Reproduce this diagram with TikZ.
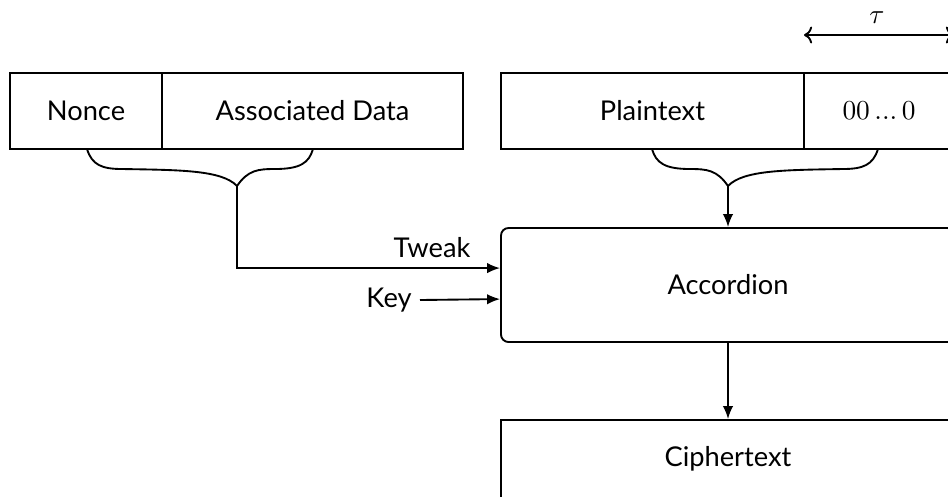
\documentclass[tikz,border=0pt]{standalone}
\usepackage{fontspec}
\setmainfont{Lato}
\usetikzlibrary{arrows.meta,calc}

\begin{document}
\begin{tikzpicture}[x=0.4pt,y=-0.4pt,
  line width=0.75pt,
  every node/.style={font=\fontsize{10.9}{13}\selectfont},
  field/.style={draw, inner sep=0pt, minimum height=76*0.4pt},
  block/.style={draw, rounded corners=3pt, inner sep=0pt,
                minimum width=454*0.4pt, minimum height=114*0.4pt},
  flow/.style={-{Latex[length=5.2pt,width=4.2pt]}},
  % curly brace with its tip at the origin, long arm to the left
  curlybrace/.pic={
    \draw (-150,-37) .. controls (-145,-21) and (-135,-17) .. (-115,-17)
          .. controls (-57,-16) and (-15,-16) .. (0,0)
          .. controls (11,-16) and (21,-17) .. (38,-17)
          .. controls (63,-17) and (72,-23) .. (76,-37);
  },
]
\useasboundingbox (0,0) rectangle (948,496);
\begin{scope}
\clip (0,0) rectangle (948,496);

% input fields
\node[field, minimum width=152*0.4pt] (nonce) at (86,111) {Nonce};
\node[field, minimum width=301*0.4pt] (ad) at (312.5,111) {Associated Data};
\node[field, minimum width=303*0.4pt] (pt) at (652.5,111) {Plaintext};
\node[field, minimum width=150*0.4pt] (zeros) at (879,111) {$00\mathinner{...}0$};

% cipher and output
\node[block] (acc) at (728,285) {Accordion};
\node[field, minimum width=454*0.4pt, minimum height=78*0.4pt] (ct) at (728,459) {Ciphertext};

% braces collecting the fields
\coordinate (ltip) at (237,186);
\coordinate (rtip) at (728,186);
\pic at (ltip) {curlybrace};
\pic[xscale=-1] at (rtip) {curlybrace};

% connectors
\coordinate (tw) at ($(acc.north west)+(0,41)$);
\coordinate (ky) at ($(acc.north west)+(0,72)$);
\draw[flow] (ltip) |- (tw);
\node at (432,248) {Tweak};
\node[inner sep=0pt] (key) at (389,300) {Key};
\coordinate (keyend) at (420,300);
\draw[flow] (keyend) -- (ky);
\draw[flow] (rtip) -- (acc.north);
\draw[flow] (acc.south) -- (ct.north);

% tag length
\coordinate (tauL) at (804,35);
\coordinate (tauR) at (954,35);
\draw[{To}-{To}] (tauL) -- (tauR);
\node at (877,18) {$\tau$};
\end{scope}
\end{tikzpicture}
\end{document}
